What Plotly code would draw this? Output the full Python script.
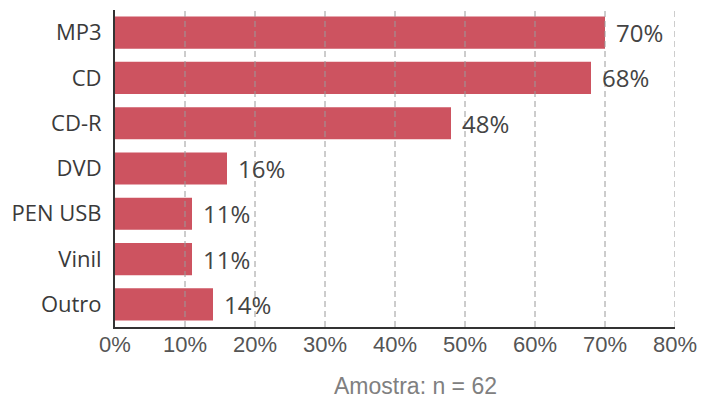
import plotly.graph_objects as go

# Media used to listen to music (share of respondents)
categories = ["MP3", "CD", "CD-R", "DVD", "PEN USB", "Vinil", "Outro"]
values = [70, 68, 48, 16, 11, 11, 14]
tick_values = [0, 10, 20, 30, 40, 50, 60, 70, 80]
tick_labels = [f"{t}%" for t in tick_values]
sample_note = "Amostra: n = 62"

BAR_COLOR = "#CD5360"
AXIS_COLOR = "#333333"

fig = go.Figure()
fig.add_trace(go.Bar(
    x=values,
    y=categories,
    orientation="h",
    marker=dict(color=BAR_COLOR, line=dict(width=0)),
    hoverinfo="skip",
))

# value labels to the right of each bar
for cat, v in zip(categories, values):
    fig.add_annotation(
        x=v, y=cat, xref="x", yref="y",
        text=f"{v}%", showarrow=False,
        xanchor="left", yanchor="middle", xshift=9,
        font=dict(family="Open Sans", size=24, color="#444444"),
    )

# dashed grid drawn over the bars
for t in tick_values[1:]:
    fig.add_shape(
        type="line", xref="x", yref="paper",
        x0=t, x1=t, y0=0, y1=1,
        line=dict(color="#9a9a9a", width=1, dash="6px,4px"),
        layer="above",
    )

fig.add_annotation(
    x=0.536, y=-0.185, xref="paper", yref="paper",
    text=sample_note, showarrow=False,
    xanchor="center", yanchor="middle",
    font=dict(family="Liberation Sans", size=23, color="#808080"),
)

fig.update_layout(
    width=702, height=403,
    margin=dict(l=115, r=27, t=10, b=76, autoexpand=False),
    paper_bgcolor="white", plot_bgcolor="white",
    bargap=0.29,
    showlegend=False,
    xaxis=dict(
        range=[0, 80],
        tickvals=tick_values, ticktext=tick_labels,
        showgrid=False, zeroline=False,
        showline=True, linecolor=AXIS_COLOR, linewidth=2,
        ticks="", ticklabelstandoff=-3,
        tickfont=dict(family="Liberation Sans", size=22, color="#555555"),
        automargin=False,
        fixedrange=True,
    ),
    yaxis=dict(
        autorange="reversed",
        showgrid=False, zeroline=False,
        showline=True, linecolor=AXIS_COLOR, linewidth=2,
        ticks="", ticklabelstandoff=7,
        tickfont=dict(family="Open Sans", size=22, color="#3a3a3a"),
        automargin=False,
        fixedrange=True,
    ),
)

fig.write_html("out.html")
